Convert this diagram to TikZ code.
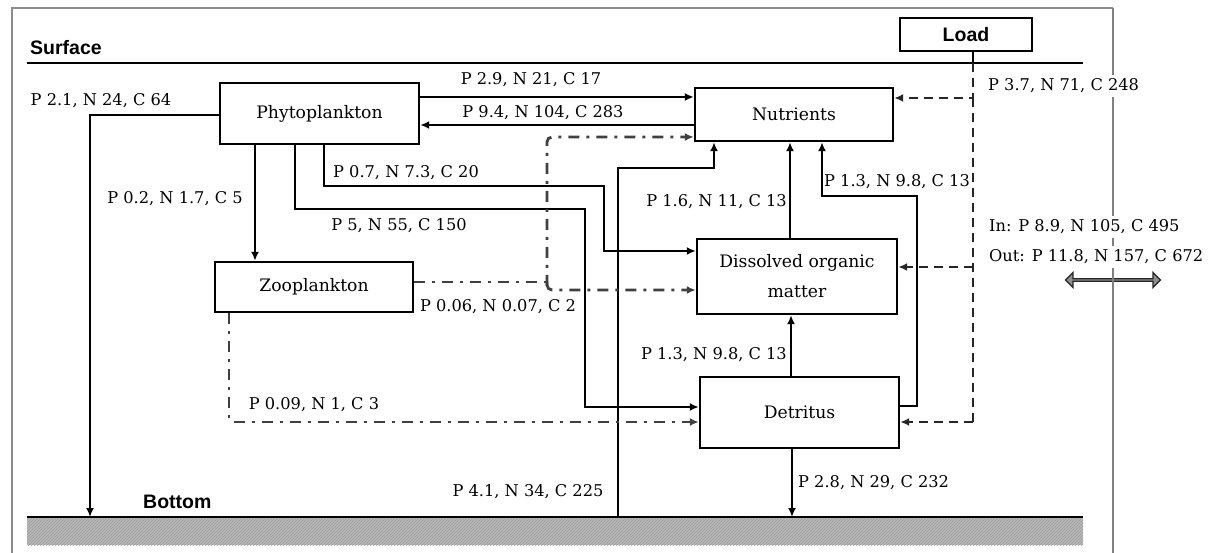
\documentclass[tikz,border=0pt]{standalone}
\usepackage{fontspec}
\setmainfont{DejaVu Serif}
\newfontfamily\hsans{Liberation Sans}
\usetikzlibrary{arrows.meta,shapes.arrows,patterns}
\begin{document}
\begin{tikzpicture}[x=1pt,y=-1pt,
 box/.style={draw, line width=2.4pt, fill=white, inner sep=0pt, font=\fontsize{17.2}{30}\selectfont, align=center},
 tip/.style={-{Latex[length=9pt,width=8pt]}},
 flow/.style={line width=2pt, tip},
 lbl/.style={inner sep=0pt, font=\fontsize{16.2}{22}\selectfont},
 wlbl/.style={lbl, fill=white, inner ysep=4pt},
 ddotline/.style={draw=black!75, line width=2.8pt, dash pattern=on 11pt off 7pt on 3pt off 7pt},
 ddot/.style={ddotline, tip},
 dshline/.style={draw=black!85, line width=2.4pt, dash pattern=on 9pt off 6pt},
 dsh/.style={dshline, tip},
 hlab/.style={inner sep=0pt, font=\hsans\bfseries\fontsize{19.5}{22}\selectfont},
 frame/.style={draw=black!45, line width=2.4pt}
 ]
\useasboundingbox (0,0) rectangle (1232,553);
% frame
\coordinate (f1) at (12,553);
\coordinate (f2) at (12,8);
\coordinate (f3) at (1113,8);
\coordinate (f4) at (1113,553);
\draw[frame] (f1) -- (f2) -- (f3);
% exchange arrow
\node[double arrow, draw=black!85, fill=black!45, line width=1.3pt, minimum height=95pt, minimum width=15pt,
      double arrow head extend=3pt, inner sep=0pt] (ex) at (1113,280) {};
\draw[frame, draw=black!50] (f3) -- (f4);
% surface and bottom
\draw[line width=2.4pt] (27,63) coordinate (s1) -- (1083,63) coordinate (s2);
\fill[black!28] (27,518) rectangle (1083,545);
\fill[pattern=north east lines, pattern color=black!38] (27,518) rectangle (1083,545);
\draw[line width=2.4pt] (27,517) coordinate (b1) -- (1083,517) coordinate (b2);
\node[hlab, anchor=west] (surf) at (30,48) {Surface};
\node[hlab, anchor=west] (bot) at (143,502) {Bottom};

% boxes
\node[box, minimum width=199pt, minimum height=61pt] (phy) at (319.5,113.5) {Phytoplankton};
\node[box, minimum width=198pt, minimum height=53pt] (nut) at (794,114.5) {Nutrients};
\node[box, minimum width=198pt, minimum height=50pt] (zoo) at (314,287) {Zooplankton};
\node[box, minimum width=200pt, minimum height=75pt] (dom) at (797,276.5) {Dissolved organic\\matter};
\node[box, minimum width=199pt, minimum height=71pt] (det) at (799.5,412.5) {Detritus};
\node[box, minimum width=132pt, minimum height=33pt, font=\hsans\bfseries\fontsize{19.5}{22}\selectfont] (load) at (966,34.5) {Load};

% solid flows
\draw[flow] (phy.east |- 0,97) -- (nut.west |- 0,97);
\draw[flow] (nut.west |- 0,125) -- (phy.east |- 0,125);
\draw[flow] (phy.west |- 0,115) -| (b1 -| 90,0);
\draw[flow] (phy.south -| 255,0) -- (zoo.north -| 255,0);
\draw[flow] (phy.south -| 324,0) |- (604,186) |- (dom.west |- 0,251);
\draw[flow] (phy.south -| 295,0) |- (585,209) |- (det.west |- 0,407);
\draw[flow] (b1 -| 618,0) |- (714,168) -- (nut.south -| 714,0);
\draw[flow] (dom.north -| 790,0) -- (nut.south -| 790,0);
\draw[flow] (det.east |- 0,406) -| (917,196) -| (nut.south -| 822,0);
\draw[flow] (det.north -| 791,0) -- (dom.south -| 791,0);
\draw[flow] (det.south -| 792,0) -- (b1 -| 792,0);

% dash-dot flows
\coordinate (j) at (547,282);
\draw[ddotline] (zoo.east |- j) -- (j);
\draw[ddot, rounded corners=5pt] (547,286) |- (nut.west |- 0,137);
\draw[ddot, rounded corners=5pt] (j) |- (dom.west |- 0,290);
\draw[ddot, rounded corners=3pt] (zoo.south -| 229,0) |- (det.west |- 0,422);

% load flows
\draw[line width=2.2pt] (load.south -| 973,0) -- (s1 -| 973,0);
\draw[dsh] (s1 -| 973,0) -- (973,98) -- (nut.east |- 0,98);
\draw[dshline] (973,98) -- (973,422);
\draw[dsh] (973,267) -- (dom.east |- 0,267);
\draw[dsh] (973,422) -- (det.east |- 0,422);

% labels
\node[lbl] (l1) at (531,80) {P 2.9, N 21, C 17};
\node[lbl] (l2) at (543,113) {P 9.4, N 104, C 283};
\node[lbl] (l3) at (101,101) {P 2.1, N 24, C 64};
\node[lbl] (l4) at (175,199) {P 0.2, N 1.7, C 5};
\node[lbl] (l5) at (406,173) {P 0.7, N 7.3, C 20};
\node[lbl] (l6) at (399,226) {P 5, N 55, C 150};
\node[lbl, anchor=east] (l7) at (787,202) {P 1.6, N 11, C 13};
\node[lbl] (l8) at (897,182) {P 1.3, N 9.8, C 13};
\node[lbl] (l9) at (498,307) {P 0.06, N 0.07, C 2};
\node[lbl, anchor=east] (l10) at (787,355) {P 1.3, N 9.8, C 13};
\node[lbl] (l11) at (314,405) {P 0.09, N 1, C 3};
\node[lbl] (l12) at (528,492) {P 4.1, N 34, C 225};
\node[lbl, anchor=west] (l13) at (798,483) {P 2.8, N 29, C 232};
\node[wlbl, anchor=west] (l14) at (988,86) {P 3.7, N 71, C 248};
\node[wlbl, anchor=west] (l15) at (989,227) {In: P 8.9, N 105, C 495};
\node[wlbl, anchor=west] (l16) at (989,257) {Out: P 11.8, N 157, C 672};
\end{tikzpicture}
\end{document}
